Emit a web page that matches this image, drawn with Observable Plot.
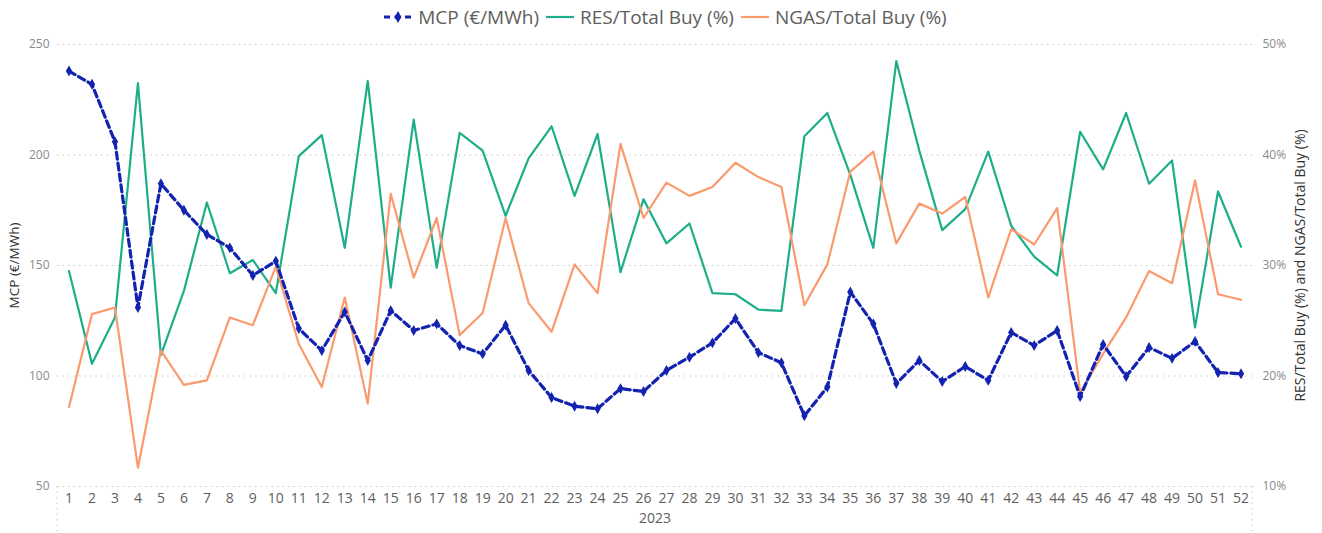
<!DOCTYPE html>
<html>
<head>
<meta charset="utf-8">
<script src="https://cdn.jsdelivr.net/npm/d3@7"></script>
<script src="https://cdn.jsdelivr.net/npm/@observablehq/plot@0.6"></script>
<style>
  body { margin: 0; background: #fff; font-family: "Open Sans", sans-serif; }
  #legend { height: 34px; display: flex; justify-content: center; align-items: center; gap: 6px; font-size: 19px; color: #605E5C; padding-left: 8px; }
  #legend .item { display: flex; align-items: center; gap: 5px; }
  svg { display: block; }
</style>
</head>
<body>
<div id="legend"></div>
<div id="chart"></div>
<script>
const weeks = d3.range(1, 53);
const mcp = [238, 232, 206, 131, 187, 175, 164, 158, 145.5, 152, 121.5, 111.5, 129, 107, 129.6, 120.6, 123.6, 113.8, 110, 123,
  102.5, 90.3, 86.3, 85.2, 94.3, 93, 102.5, 108.5, 115, 126, 110.6, 106, 82, 95, 138, 123.6, 96.6, 107, 97.5, 104.3,
  98, 119.7, 113.8, 120.6, 90.7, 114.3, 99.8, 112.9, 108, 115.6, 101.6, 101];
const res = [29.5, 21.1, 25.3, 46.5, 21.9, 27.7, 35.7, 29.3, 30.5, 27.5, 39.9, 41.8, 31.6, 46.7, 28.0, 43.2, 29.8, 42.0, 40.4, 34.5,
  39.7, 42.6, 36.3, 41.9, 29.4, 36.0, 32.0, 33.8, 27.5, 27.4, 26.0, 25.9, 41.7, 43.8, 38.2, 31.6, 48.5, 40.4, 33.2, 35.1,
  40.3, 33.6, 30.8, 29.1, 42.1, 38.7, 43.8, 37.4, 39.5, 24.4, 36.7, 31.7];
const ngas = [17.2, 25.6, 26.2, 11.7, 22.3, 19.2, 19.6, 25.3, 24.6, 29.9, 22.9, 19.0, 27.1, 17.5, 36.5, 28.9, 34.3, 23.7, 25.7, 34.3,
  26.6, 24.0, 30.1, 27.5, 41.0, 34.3, 37.5, 36.3, 37.1, 39.3, 38.0, 37.1, 26.4, 30.1, 38.5, 40.3, 32.0, 35.6, 34.7, 36.2,
  27.1, 33.3, 31.9, 35.2, 18.5, 22.0, 25.3, 29.5, 28.4, 37.7, 27.4, 26.9];
const leftTicks = [50, 100, 150, 200, 250];
const rightTicks = [10, 20, 30, 40, 50];
const yearLabel = "2023";
const seriesNames = ["MCP (€/MWh)", "RES/Total Buy (%)", "NGAS/Total Buy (%)"];
const leftTitle = "MCP (€/MWh)";
const rightTitle = "RES/Total Buy (%) and NGAS/Total Buy (%)";
const colors = ["#1323B0", "#1DAE89", "#FA9A6E"];

// map percent to the left (MCP) scale: 10% -> 50, 50% -> 250
const pctToLeft = p => 50 + (p - 10) * 5;
const leftToPct = v => (v - 50) / 5 + 10;

const rows = weeks.map((w, i) => ({week: w, mcp: mcp[i], res: res[i], ngas: ngas[i]}));

const chart = Plot.plot({
  width: 1322,
  height: 499,
  marginTop: 10,
  marginBottom: 47,
  marginLeft: 57,
  marginRight: 70,
  style: {fontFamily: "'Open Sans', sans-serif", background: "#fff"},
  x: {type: "point", domain: weeks, padding: 0.5},
  y: {domain: [50, 250]},
  marks: [
    Plot.gridY(leftTicks, {stroke: "#c8c8c8", strokeOpacity: 1, strokeDasharray: "1.5,4"}),
    Plot.axisY(leftTicks, {anchor: "left", tickSize: 0, tickPadding: 8, fontSize: 12, fill: "#8a8a8a", label: null}),
    Plot.axisY(rightTicks.map(pctToLeft), {anchor: "right", tickSize: 0, tickPadding: 10, fontSize: 12, fill: "#8a8a8a", label: null,
      tickFormat: d => leftToPct(d) + "%"}),
    Plot.axisX(weeks, {anchor: "bottom", tickSize: 0, tickPadding: 7, fontSize: 14, fill: "#605E5C", label: null}),
    Plot.text([leftTitle], {frameAnchor: "left", textAnchor: "middle", dx: -43, rotate: -90, fontSize: 13.5, fill: "#333", text: d => d}),
    Plot.text([rightTitle], {frameAnchor: "right", textAnchor: "middle", dx: 48, rotate: -90, fontSize: 14, fill: "#333", text: d => d}),
    Plot.text([yearLabel], {frameAnchor: "bottom", dy: 36, fontSize: 14, fill: "#605E5C", text: d => d}),
    Plot.line(rows, {x: "week", y: d => pctToLeft(d.res), stroke: colors[1], strokeWidth: 2.2}),
    Plot.line(rows, {x: "week", y: d => pctToLeft(d.ngas), stroke: colors[2], strokeWidth: 2.2}),
    Plot.line(rows, {x: "week", y: "mcp", stroke: colors[0], strokeWidth: 3.2, strokeDasharray: "7,4"}),
    Plot.dot(rows, {x: "week", y: "mcp", symbol: "diamond", r: 3.3, fill: colors[0], stroke: null})
  ]
});

// hierarchical axis separators at the ends of the x range (from the scale)
const xr = chart.scale("x").range;
const yr = chart.scale("y").range;
const svgSel = d3.select(chart);
for (const xv of xr) {
  svgSel.append("line")
    .attr("x1", xv).attr("x2", xv)
    .attr("y1", yr[0]).attr("y2", 499)
    .attr("stroke", "#c8c8c8").attr("stroke-dasharray", "1.5,4");
}
document.getElementById("chart").appendChild(chart);

// legend
const legend = d3.select("#legend");
seriesNames.forEach((name, i) => {
  const item = legend.append("div").attr("class", "item");
  const s = item.append("svg").attr("width", 30).attr("height", 12);
  if (i === 0) {
    s.append("line").attr("x1", 1).attr("x2", 29).attr("y1", 6).attr("y2", 6)
      .attr("stroke", colors[0]).attr("stroke-width", 3).attr("stroke-dasharray", "6,4.5");
    s.append("path").attr("d", d3.symbol(d3.symbolDiamond, 40)()).attr("transform", "translate(15,6)").attr("fill", colors[0]);
  } else {
    s.append("line").attr("x1", 1).attr("x2", 29).attr("y1", 6).attr("y2", 6)
      .attr("stroke", colors[i]).attr("stroke-width", 2.2);
  }
  item.append("span").text(name);
});
</script>
</body>
</html>
